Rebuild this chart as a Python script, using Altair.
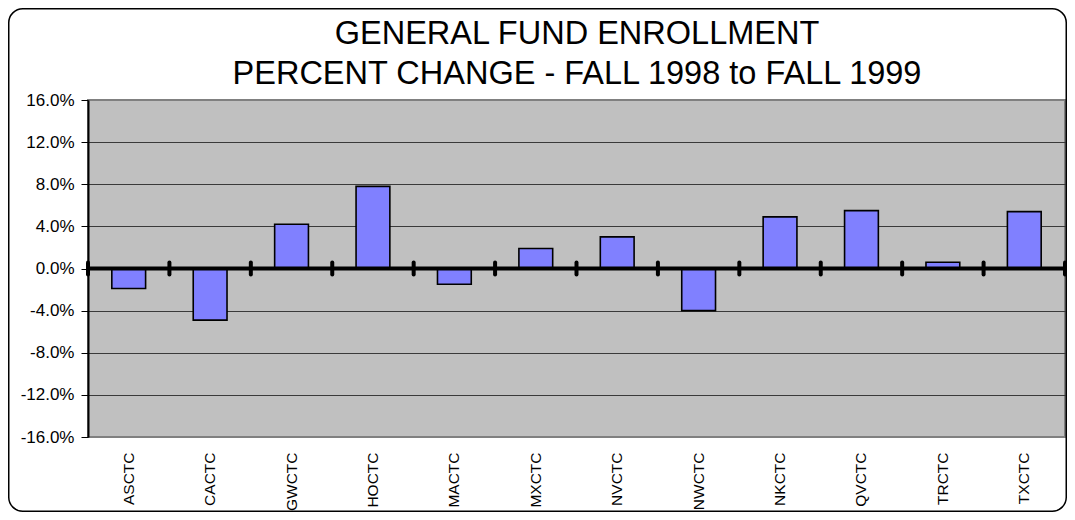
import altair as alt
import pandas as pd

categories = ["ASCTC", "CACTC", "GWCTC", "HOCTC", "MACTC", "MXCTC",
              "NVCTC", "NWCTC", "NKCTC", "QVCTC", "TRCTC", "TXCTC"]
pct_change = [-0.019, -0.049, 0.042, 0.078, -0.015, 0.019,
              0.030, -0.040, 0.049, 0.055, 0.006, 0.054]
y_ticks = [-0.16, -0.12, -0.08, -0.04, 0.0, 0.04, 0.08, 0.12, 0.16]
title_lines = ["GENERAL FUND ENROLLMENT", "PERCENT CHANGE - FALL 1998 to FALL 1999"]

df = pd.DataFrame({"cat": categories, "val": pct_change})
last = pd.DataFrame({"cat": categories[-1:]})
one = pd.DataFrame({"k": [0]})

FONT = "Liberation Sans"
W, H = 977, 337

xscale = alt.Scale(domain=categories, paddingInner=0, paddingOuter=0)
yscale = alt.Scale(domain=[-0.16, 0.16], nice=False, zero=False)

bars = alt.Chart(df).mark_bar(
    width=alt.RelativeBandSize(0.415), fill="#8080FF", stroke="black", strokeWidth=1.6
).encode(
    x=alt.X("cat:N", scale=xscale, sort=categories, title="",
            axis=alt.Axis(labelAngle=-90, domain=False, ticks=False, labelFontSize=15.5,
                          labelPadding=15, labelColor="black", labelFont=FONT, grid=False)),
    y=alt.Y("val:Q", scale=yscale, title="",
            axis=alt.Axis(values=y_ticks, labelExpr="replace(format(datum.value, '.1%'), '\u2212', '-')",
                          labelFontSize=17, labelFont=FONT, labelColor="black", labelPadding=7,
                          domainColor="black", domainWidth=2, tickColor="black", tickSize=7,
                          tickWidth=1,
                          gridColor={"condition": {"test": "abs(datum.value) > 0.15", "value": "#808080"},
                                     "value": "#3a3a3a"},
                          gridWidth=1)),
)

zero = alt.Chart(one).mark_rule(color="black", strokeWidth=4).encode(
    y=alt.datum(0.0, scale=yscale)
)

ticks = alt.Chart(df).mark_rule(color="black", strokeWidth=4, strokeCap="round").encode(
    x=alt.X("cat:N", scale=xscale, sort=categories, bandPosition=0),
    y=alt.datum(-0.0058),
    y2=alt.datum(0.0058),
)
ticks_last = alt.Chart(last).mark_rule(color="black", strokeWidth=4, strokeCap="round").encode(
    x=alt.X("cat:N", scale=xscale, sort=categories, bandPosition=1),
    y=alt.datum(-0.0058),
    y2=alt.datum(0.0058),
)

frame = alt.Chart(one).mark_rect(
    filled=False, stroke="black", strokeWidth=1.5, cornerRadius=14
).encode(
    x=alt.value(-79.25), x2=alt.value(W + 1.25), y=alt.value(-91.25), y2=alt.value(H + 74.25)
)

title = alt.Chart(one).mark_text(
    font=FONT, fontSize=32.5, color="black", align="center", baseline="alphabetic",
    lineHeight=40
).encode(
    x=alt.value(489), y=alt.value(-56.5), text=alt.value(title_lines)
)

chart = alt.layer(bars, zero, ticks, ticks_last, frame, title).properties(
    width=W,
    height=H,
    autosize=alt.AutoSizeParams(type="none"),
    padding={"left": 80, "top": 92, "right": 2, "bottom": 75},
).configure_view(
    fill="#C0C0C0", stroke="#808080", strokeWidth=2
)

chart.save("out.html", embed_options={"renderer": "svg", "actions": False})
